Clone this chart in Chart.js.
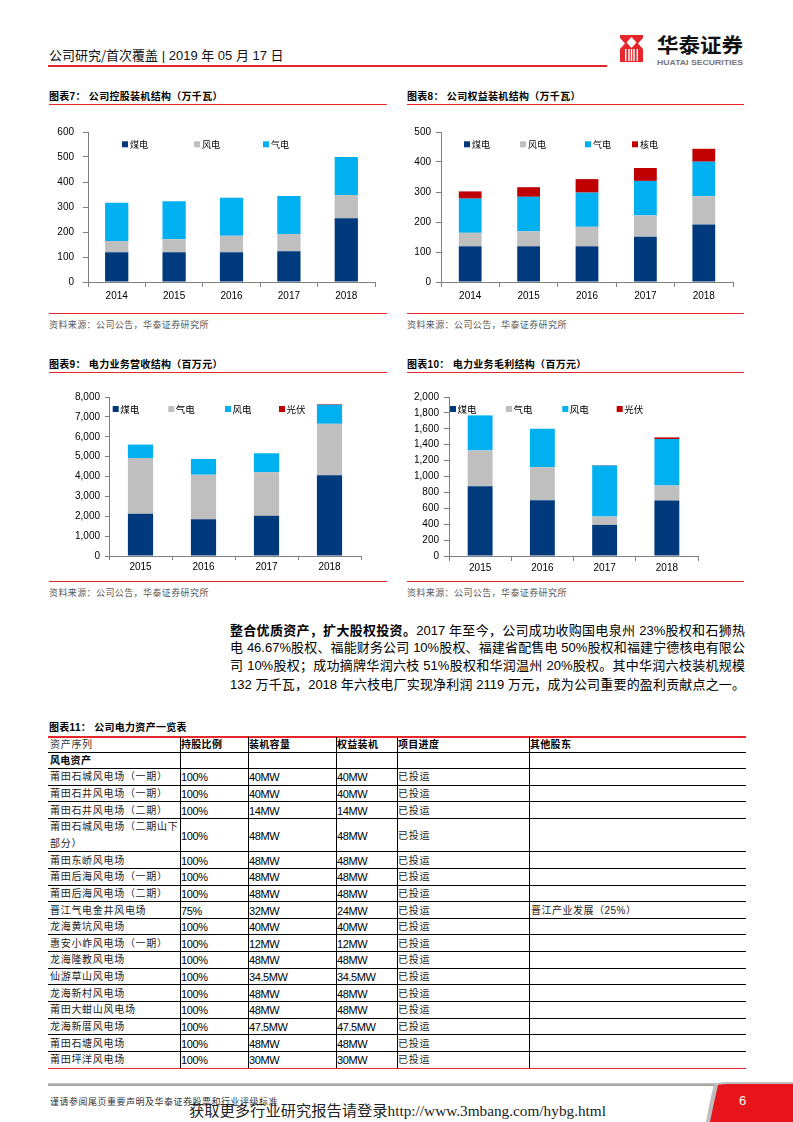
<!DOCTYPE html>
<html><head><meta charset="utf-8">
<script src="https://cdn.jsdelivr.net/npm/chart.js@4.4.1/dist/chart.umd.min.js"></script>
<style>
body{margin:0;background:#fff;}
#page{position:relative;width:793px;height:1122px;overflow:hidden;font-family:"Liberation Sans","Noto Sans CJK SC",sans-serif;color:#000;background:#fff;}
.abs{position:absolute;white-space:nowrap;}
.title{font-size:10px;font-weight:bold;letter-spacing:0.3px;line-height:12px;}
.rl{position:absolute;height:1px;background:#E5262B;}
.src{font-size:9px;color:#595959;letter-spacing:0.4px;line-height:11px;}
canvas{position:absolute;}
.para{position:absolute;left:230px;width:515px;font-size:13px;line-height:16px;text-align:justify;text-align-last:justify;white-space:nowrap;}
.cell{position:absolute;white-space:nowrap;font-size:11px;letter-spacing:-0.4px;line-height:14px;}
.cn{font-size:10px;letter-spacing:0.7px;color:#222;}
.hl{position:absolute;height:1px;background:#000;}
.vl{position:absolute;width:1px;background:#000;}
</style></head><body><div id="page">

<!-- header -->
<div class="abs" style="left:49px;top:47px;font-size:13px;line-height:16px;color:#111;"><span style="font-family:'Noto Sans CJK SC';">公司研究/首次覆盖</span> | 2019 年 05 月 17 日</div>
<div class="rl" style="left:48px;top:65px;width:559px;height:2px;"></div>
<svg class="abs" style="left:620px;top:35px;" width="23" height="27" viewBox="0 0 23 27">
  <rect x="0" y="0" width="23" height="27" fill="#E5262B"/>
  <polygon points="11.5,2 16.5,7.5 11.5,13 6.5,7.5" fill="#fff"/>
  <polygon points="0,3 5,8.5 0,14" fill="#fff"/>
  <polygon points="23,3 18,8.5 23,14" fill="#fff"/>
  <rect x="5" y="14" width="1.4" height="12" fill="#fff"/>
  <rect x="8.3" y="14" width="1.4" height="12" fill="#fff"/>
  <rect x="10.8" y="14" width="1.4" height="12" fill="#fff"/>
  <rect x="13.3" y="14" width="1.4" height="12" fill="#fff"/>
  <rect x="16.6" y="14" width="1.4" height="12" fill="#fff"/>
</svg>
<div class="abs fit" data-w="86" style="left:657px;top:33px;font-size:20px;font-weight:bold;line-height:24px;font-family:'Noto Sans CJK SC';color:#111;">华泰证券</div>
<div class="abs fit" data-w="86" style="left:657px;top:58px;font-size:8px;font-weight:bold;line-height:9px;color:#777;">HUATAI SECURITIES</div>

<!-- chart titles -->
<div class="abs title" style="left:49px;top:91px;">图表7： 公司控股装机结构（万千瓦）</div>
<div class="rl" style="left:49px;top:104px;width:338px;"></div>
<div class="abs title" style="left:407px;top:91px;">图表8： 公司权益装机结构（万千瓦）</div>
<div class="rl" style="left:407px;top:104px;width:337px;"></div>

<canvas id="c7" width="340" height="200" style="left:40px;top:110px;"></canvas>
<canvas id="c8" width="338" height="200" style="left:400px;top:110px;"></canvas>

<div class="rl" style="left:49px;top:313px;width:338px;"></div>
<div class="abs src" style="left:49px;top:320px;">资料来源：公司公告，华泰证券研究所</div>
<div class="rl" style="left:407px;top:313px;width:337px;"></div>
<div class="abs src" style="left:407px;top:320px;">资料来源：公司公告，华泰证券研究所</div>

<div class="abs title" style="left:49px;top:359px;">图表9： 电力业务营收结构（百万元）</div>
<div class="rl" style="left:49px;top:372px;width:338px;"></div>
<div class="abs title" style="left:407px;top:359px;">图表10： 电力业务毛利结构（百万元）</div>
<div class="rl" style="left:407px;top:372px;width:337px;"></div>

<canvas id="c9" width="326" height="203" style="left:40px;top:375px;"></canvas>
<canvas id="c10" width="303" height="203" style="left:400px;top:375px;"></canvas>

<div class="rl" style="left:49px;top:581px;width:338px;"></div>
<div class="abs src" style="left:49px;top:588px;">资料来源：公司公告，华泰证券研究所</div>
<div class="rl" style="left:407px;top:581px;width:337px;"></div>
<div class="abs src" style="left:407px;top:588px;">资料来源：公司公告，华泰证券研究所</div>

<!-- paragraph -->
<div class="para" style="top:622px;"><b style="font-family:'Noto Sans CJK SC';">整合优质资产，扩大股权投资。</b>2017 年至今，公司成功收购国电泉州 23%股权和石狮热</div>
<div class="para" style="top:640px;">电 46.67%股权、福能财务公司 10%股权、福建省配售电 50%股权和福建宁德核电有限公</div>
<div class="para" style="top:658px;">司 10%股权；成功摘牌华润六枝 51%股权和华润温州 20%股权。其中华润六枝装机规模</div>
<div class="para" style="top:677px;">132 万千瓦，2018 年六枝电厂实现净利润 2119 万元，成为公司重要的盈利贡献点之一。</div>

<!-- table -->
<div class="abs title" style="left:49px;top:722px;">图表11： 公司电力资产一览表</div>
<div id="tbl"></div>

<!-- footer -->
<div class="abs" style="left:48px;top:1083px;width:668px;height:3px;background:linear-gradient(#c8c8c8,#9a9a9a);"></div>
<svg class="abs" style="left:700px;top:1080px;" width="93" height="42">
  <path d="M14,4 Q20,2 26,2 L93,2 L93,42 L6,42 Q10,20 14,4 Z" fill="#bdbdbd"/>
  <path d="M18,5 Q22,4 28,4 L93,4 L93,42 L10,42 Q14,22 18,5 Z" fill="#E8141C"/>
</svg>
<div class="abs" style="left:739px;top:1093px;font-size:13px;line-height:16px;color:#fff;">6</div>
<div class="abs" style="left:50px;top:1096px;font-size:9px;line-height:11px;letter-spacing:0.5px;color:#333;font-family:'Noto Sans CJK SC';">谨请参阅尾页重要声明及华泰证券股票和行业评级标准</div>
<div class="abs fit" data-w="417" style="left:189px;top:1102px;font-size:15px;line-height:18px;color:#222;font-family:'Liberation Serif','Noto Sans CJK SC',serif;">获取更多行业研究报告请登录http://www.3mbang.com/hybg.html</div>

</div>
<script>
// ---------- chart data ----------
const years7 = ['2014','2015','2016','2017','2018'];
const coal7 = [119,119,119,123,255];
const wind7 = [45,52,66,69,93];
const gas7 = [153,152,152,152,152];

const years8 = ['2014','2015','2016','2017','2018'];
const coal8 = [119,119,119,151,192];
const wind8 = [45,50,65,71,94];
const gas8 = [114,115,114,115,115];
const nuclear8 = [24,32,45,43,43];

const years9 = ['2015','2016','2017','2018'];
const coal9 = [2120,1850,2020,4060];
const gas9 = [2810,2240,2190,2590];
const wind9 = [675,790,960,960];
const pv9 = [0,0,0,30];

const years10 = ['2015','2016','2017','2018'];
const coal10 = [878,702,391,697];
const gas10 = [450,416,105,190];
const wind10 = [441,483,643,584];
const pv10 = [0,0,5,21];

// ---------- table data ----------
const tblHeaders = ['资产序列','持股比例','装机容量','权益装机','项目进度','其他股东'];
const tblSection = '风电资产';
const assetNames = ['莆田石城风电场（一期）','莆田石井风电场（一期）','莆田石井风电场（二期）','莆田石城风电场（二期山下部分）','莆田东峤风电场','莆田后海风电场（一期）','莆田后海风电场（二期）','晋江气电金井风电场','龙海黄坑风电场','惠安小岞风电场（一期）','龙海隆教风电场','仙游草山风电场','龙海新村风电场','莆田大蚶山风电场','龙海新厝风电场','莆田石塘风电场','莆田坪洋风电场'];
const shares = ['100%','100%','100%','100%','100%','100%','100%','75%','100%','100%','100%','100%','100%','100%','100%','100%','100%'];
const capacity = ['40MW','40MW','14MW','48MW','48MW','48MW','48MW','32MW','40MW','12MW','48MW','34.5MW','48MW','48MW','47.5MW','48MW','30MW'];
const equityCap = ['40MW','40MW','14MW','48MW','48MW','48MW','48MW','24MW','40MW','12MW','48MW','34.5MW','48MW','48MW','47.5MW','48MW','30MW'];
const progress = ['已投运','已投运','已投运','已投运','已投运','已投运','已投运','已投运','已投运','已投运','已投运','已投运','已投运','已投运','已投运','已投运','已投运'];
const others = ['','','','','','','','晋江产业发展（25%）','','','','','','','','',''];

// ---------- colors ----------
const NAVY='#013A7C', GRAY='#BFBFBF', SKY='#00B0F0', RED='#C00000', AX='#7F7F7F';
const TF = '"Liberation Sans", Arial, sans-serif';

const boxLegend = {
  id:'boxLegend',
  afterDraw(chart, args, o){
    const {ctx, chartArea} = chart;
    ctx.save();
    ctx.font = o.font;
    ctx.textBaseline = 'middle';
    chart.data.datasets.forEach((ds,i)=>{
      const x = chartArea.left + o.xs[i];
      const y = chartArea.top + o.y;
      ctx.fillStyle = ds.backgroundColor;
      ctx.fillRect(x, y - o.box/2, o.box, o.box);
      ctx.fillStyle = '#000';
      ctx.fillText(ds.label, x + o.box + o.gap, y + 0.5);
    });
    ctx.restore();
  }
};

function makeChart(id, labels, series, o){
  new Chart(document.getElementById(id), {
    type:'bar',
    data:{labels, datasets: series.map(s=>({label:s[0], data:s[1], backgroundColor:s[2], borderWidth:0, barPercentage:o.bp, categoryPercentage:1}))},
    plugins:[boxLegend],
    options:{
      responsive:false, animation:false, devicePixelRatio:1,
      layout:{padding:{top:o.padTop, right:5, left:0, bottom:0}},
      plugins:{legend:{display:false}, tooltip:{enabled:false},
        boxLegend:{xs:o.legX, y:o.legY, box:6, gap:o.gap, font:o.legFont}},
      scales:{
        x:{stacked:true, offset:true,
          grid:{display:true, drawOnChartArea:false, offset:true, tickLength:o.xTick, color:AX, lineWidth:1},
          border:{display:true, color:AX, width:1},
          ticks:{color:'#000', font:{family:TF, size:10}, padding:o.xPad, maxRotation:0},
          afterFit(s){ s.height = o.xH; }
        },
        y:{stacked:true, min:0, max:o.max,
          grid:{display:true, drawOnChartArea:false, tickLength:o.yTick, color:AX, lineWidth:1},
          border:{display:true, color:AX, width:1},
          ticks:{stepSize:o.step, color:'#000', font:{family:TF, size:10}, padding:o.yPad,
            callback:v=>v.toLocaleString('en-US')},
          afterFit(s){ s.width = o.yW; }
        }
      }
    }
  });
}

const LF7 = '9px "Noto Sans CJK SC"';
const LF9 = '9.5px "Noto Sans CJK SC"';

makeChart('c7', years7, [['煤电',coal7,NAVY],['风电',wind7,GRAY],['气电',gas7,SKY]],
  {bp:0.405, padTop:22, yW:48, xH:28, xTick:5, yTick:5, xPad:3, yPad:9, max:600, step:100,
   legX:[34,106,175], legY:12.3, gap:2, legFont:LF7});
makeChart('c8', years8, [['煤电',coal8,NAVY],['风电',wind8,GRAY],['气电',gas8,SKY],['核电',nuclear8,RED]],
  {bp:0.39, padTop:22, yW:41, xH:28, xTick:5, yTick:5, xPad:3, yPad:5, max:500, step:100,
   legX:[23,79,144,191], legY:12.3, gap:2, legFont:LF7});
makeChart('c9', years9, [['煤电',coal9,NAVY],['气电',gas9,GRAY],['风电',wind9,SKY],['光伏',pv9,RED]],
  {bp:0.4, padTop:22, yW:69, xH:22, xTick:4, yTick:4, xPad:1, yPad:5, max:8000, step:1000,
   legX:[3.7,59.3,116,170], legY:12, gap:1.5, legFont:LF9});
makeChart('c10', years10, [['煤电',coal10,NAVY],['气电',gas10,GRAY],['风电',wind10,SKY],['光伏',pv10,RED]],
  {bp:0.4, padTop:22, yW:49, xH:22, xTick:5, yTick:5, xPad:1, yPad:5, max:2000, step:200,
   legX:[1,57,113.3,167.7], legY:12, gap:1.5, legFont:LF9});

// ---------- table ----------
(function(){
  const tbl = document.getElementById('tbl');
  const colX = [48,180,248,336,397,529];
  const L = 48, R = 746, TOP = 737, HEAD = 15.5, U = 16.63;
  let html = '';
  const add = (s)=>{ html += s; };
  add(`<div class="rl" style="left:${L}px;top:${TOP-1}px;width:${R-L}px;height:1.5px;"></div>`);
  function cell(x, yc, text, cls, extra){
    add(`<div class="cell ${cls||''}" style="left:${x}px;top:${(yc-7).toFixed(1)}px;${extra||''}">${text}</div>`);
  }
  // header
  let y = TOP;
  let yc = y + HEAD/2;
  tblHeaders.forEach((h,i)=>{
    const x = i===0 ? 50 : colX[i]+1;
    cell(x, yc, h, 'cn', i===0 ? 'color:#333;' : 'font-weight:bold;color:#000;letter-spacing:0.3px;');
  });
  y += HEAD;
  add(`<div class="hl" style="left:${L}px;top:${(y-1).toFixed(1)}px;width:${R-L}px;"></div>`);
  // section
  cell(50, y + U/2, tblSection, 'cn', 'font-weight:bold;color:#000;letter-spacing:0.3px;');
  y += U;
  add(`<div class="hl" style="left:${L}px;top:${(y-1).toFixed(1)}px;width:${R-L}px;"></div>`);
  assetNames.forEach((n,i)=>{
    const two = n.length > 12;
    const h = two ? 2*U : U;
    const c = y + h/2;
    if(two){
      cell(50, y + U/2, n.slice(0,12), 'cn');
      cell(50, y + U*1.5, n.slice(12), 'cn');
    } else cell(50, c, n, 'cn');
    cell(colX[1]+1, c, shares[i]);
    cell(colX[2]+1, c, capacity[i]);
    cell(colX[3]+1, c, equityCap[i]);
    cell(colX[4]+1, c, progress[i], 'cn');
    if(others[i]) cell(colX[5]+2, c, others[i], '', 'font-size:10px;letter-spacing:0.5px;color:#222;');
    y += h;
    const last = i === assetNames.length-1;
    add(`<div class="hl" style="left:${L}px;top:${(y-1).toFixed(1)}px;width:${R-L}px;${last?'background:#E5262B;height:1.5px;':''}"></div>`);
  });
  for(let i=1;i<colX.length;i++){
    add(`<div class="vl" style="left:${colX[i]}px;top:${TOP}px;height:${(y-TOP-1).toFixed(1)}px;"></div>`);
  }
  tbl.innerHTML = html;
})();

// ---------- fit text widths ----------
document.querySelectorAll('.fit').forEach(el=>{
  const w = el.getBoundingClientRect().width;
  const target = parseFloat(el.dataset.w);
  if(w>0){ el.style.transformOrigin='left center'; el.style.transform = `scaleX(${target/w})`; }
});
</script>
</body></html>
